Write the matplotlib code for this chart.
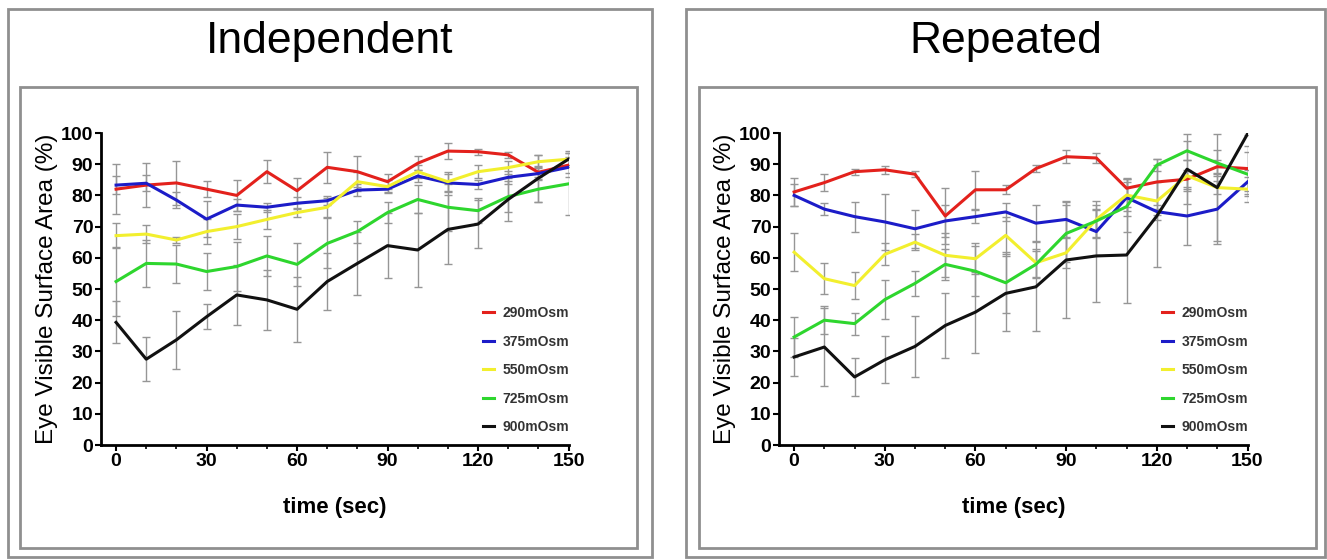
import numpy as np
import matplotlib.pyplot as plt
from matplotlib.patches import Rectangle

plt.rcParams['font.family'] = ['Liberation Sans', 'DejaVu Sans']

### Data
time_sec = [0, 10, 20, 30, 40, 50, 60, 70, 80, 90, 100, 110, 120, 130, 140, 150]
groups = ['290mOsm', '375mOsm', '550mOsm', '725mOsm', '900mOsm']
colors = ['#e3211c', '#1c1cc8', '#f2ef2e', '#2ed62e', '#111111']

# Independent
ind_290 = [82, 83.3, 84, 82, 80, 87.6, 81.5, 89, 87.6, 84.4, 90.3, 94.2, 94, 93, 87.4, 89.7]
ind_375 = [83.3, 83.9, 78.5, 72.4, 76.9, 76.2, 77.5, 78.3, 81.7, 82, 86.2, 84, 83.5, 85.8, 87, 89]
ind_550 = [67.1, 67.6, 65.7, 68.4, 70, 72.3, 74.5, 76.2, 84.4, 82.8, 87.6, 84.4, 87.6, 88.9, 90.8, 91.6]
ind_725 = [52.4, 58.2, 58, 55.6, 57.2, 60.6, 57.9, 64.6, 68.4, 74.5, 78.7, 76.2, 75.1, 79.6, 82, 83.7]
ind_900 = [39.3, 27.5, 33.7, 41.1, 48.1, 46.5, 43.5, 52.4, 58.2, 63.9, 62.5, 69.1, 70.8, 78.7, 85.5, 91.6]
ind_err_290 = [8, 7, 7, 2.5, 5, 3.7, 4, 5, 5, 2.4, 2.3, 2.5, 1, 1, 2, 2.5]
ind_err_375 = [3, 2.5, 2.5, 5.7, 2, 1.5, 2, 1.5, 2, 1, 2, 3, 1.5, 2, 2, 3]
ind_err_550 = [4, 3, 1, 4, 4, 3, 1.5, 3, 3, 2, 2, 3, 2, 2, 2, 2]
ind_err_725 = [11, 7.5, 6, 6, 8, 6.5, 7, 8, 3.5, 3.5, 4.5, 7.5, 4, 5, 4, 10]
ind_err_900 = [6.7, 7, 9.3, 4, 9.6, 9.6, 10.5, 9, 10, 10.5, 12, 11, 7.6, 7, 7.5, 2.5]

# Repeated
rep_290 = [81.1, 84.1, 87.6, 88.2, 86.8, 73.4, 81.8, 81.8, 88.6, 92.4, 92, 82.3, 84.3, 85.2, 89.2, 88.6]
rep_375 = [80, 75.6, 73.2, 71.5, 69.3, 71.8, 73.2, 74.7, 71.1, 72.3, 68.4, 79.3, 74.8, 73.4, 75.6, 84.3]
rep_550 = [61.8, 53.3, 51.1, 61.1, 65, 60.8, 59.7, 67.2, 58.4, 61.6, 72.3, 80.1, 78.2, 86.3, 82.5, 82]
rep_725 = [34.6, 40, 38.9, 46.6, 51.8, 57.9, 55.7, 52, 57.9, 67.8, 71.8, 76.4, 89.7, 94.3, 90.4, 86.8]
rep_900 = [28.2, 31.4, 21.8, 27.3, 31.6, 38.3, 42.6, 48.6, 50.7, 59.3, 60.6, 60.9, 73.4, 88.4, 82.5, 99.7]
rep_err_290 = [4.5, 2.8, 1, 1.3, 1, 9, 6, 1.5, 1, 2, 1.5, 3.4, 7.5, 3, 2, 7.3]
rep_err_375 = [3.5, 2, 4.8, 9, 6, 5, 2, 3, 5.7, 5.9, 7.4, 6, 1, 9.4, 11.3, 4]
rep_err_550 = [6, 5, 4.3, 3.5, 2.5, 7, 5, 6, 4.5, 5, 6, 5, 6, 5, 2, 4]
rep_err_725 = [6.5, 4.5, 3.5, 6.2, 4, 5, 8, 9.7, 4.3, 9, 5, 8, 2, 3, 4.2, 7]
rep_err_900 = [6, 12.6, 6, 7.5, 9.7, 10.4, 13, 12, 14.3, 18.6, 14.8, 15.4, 16.3, 11.3, 17.2, 0.5]

panels = [
    ('Independent', [ind_290, ind_375, ind_550, ind_725, ind_900],
     [ind_err_290, ind_err_375, ind_err_550, ind_err_725, ind_err_900]),
    ('Repeated', [rep_290, rep_375, rep_550, rep_725, rep_900],
     [rep_err_290, rep_err_375, rep_err_550, rep_err_725, rep_err_900]),
]

W, H = 1327, 560
fig = plt.figure(figsize=(W / 100, H / 100), dpi=100)

# pixel boxes: (outer box, inner box, axes left, axes right, title centre)
boxes = [
    ((8, 9, 652, 557), (20, 87, 637, 548), 101, 568.5, 330),
    ((686, 9, 1325, 557), (699, 87, 1316, 548), 779, 1247.5, 1006),
]

def px_rect(x0, y0, x1, y1):
    return Rectangle((x0 / W, 1 - y1 / H), (x1 - x0) / W, (y1 - y0) / H,
                     transform=fig.transFigure, fill=False,
                     edgecolor='#8f8f8f', linewidth=2.0)

for (title, series, errs), (outer, inner, axl, axr, tx) in zip(panels, boxes):
    fig.patches.append(px_rect(*outer))
    fig.patches.append(px_rect(*inner))
    fig.text(tx / W, 1 - 42 / H, title, fontsize=32, ha='center', va='center')

    ax = fig.add_axes([axl / W, 1 - 445 / H, (axr - axl) / W, 312 / H])
    for vals, err in zip(series, errs):
        ax.errorbar(time_sec, vals, yerr=err, fmt='none', ecolor='#969696',
                    elinewidth=1.0, capsize=3, capthick=1.0, zorder=1)
    for vals, col, lab in zip(series, colors, groups):
        ax.plot(time_sec, vals, color=col, linewidth=2.2, label=lab, zorder=2)

    ax.set_xlim(-5, 150)
    ax.set_ylim(0, 100)
    ax.set_xticks(np.arange(0, 151, 30))
    ax.set_xticks(np.arange(0, 151, 10), minor=True)
    ax.set_yticks(np.arange(0, 101, 10))
    for s in ['top', 'right']:
        ax.spines[s].set_visible(False)
    for s in ['left', 'bottom']:
        ax.spines[s].set_linewidth(2.0)
    ax.tick_params(which='major', direction='out', length=4, width=1.5, labelsize=14, pad=1.5)
    ax.tick_params(which='minor', direction='out', length=3, width=1.2)
    for lbl in ax.get_xticklabels() + ax.get_yticklabels():
        lbl.set_fontweight('bold')
    ax.set_xlabel('time (sec)', fontsize=16, fontweight='bold', labelpad=20)
    ax.set_ylabel('Eye Visible Surface Area (%)', fontsize=17.5, labelpad=2)

    leg = ax.legend(loc='center left', bbox_to_anchor=(0.817, 0.24), frameon=False,
                    borderpad=0, borderaxespad=0, handlelength=0.8, handletextpad=0.6,
                    labelspacing=1.05, prop={'size': 10, 'weight': 'bold'})
    for t in leg.get_texts():
        t.set_color('#333333')

fig.savefig('out.png', dpi=100, facecolor='white')
